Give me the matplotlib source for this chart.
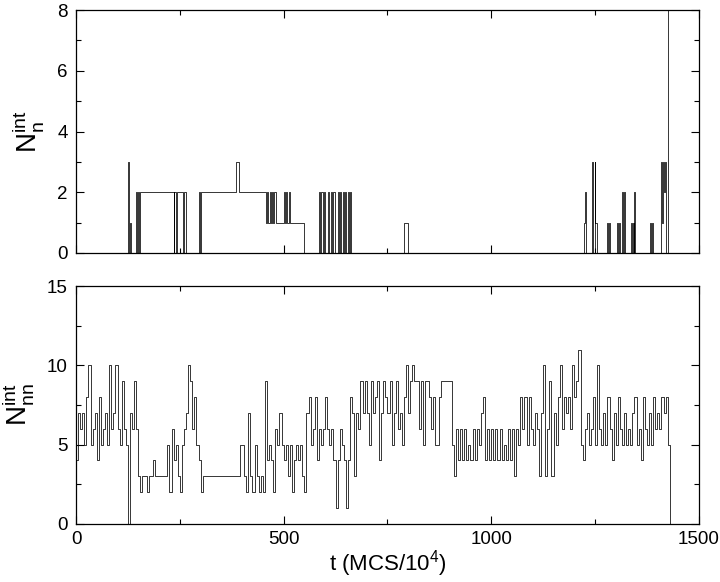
import matplotlib
matplotlib.use("Agg")
import matplotlib.pyplot as plt
from matplotlib.ticker import MultipleLocator, NullFormatter
import numpy as np

plt.rcParams['font.family'] = ['Liberation Sans', 'DejaVu Sans']
plt.rcParams['mathtext.fontset'] = 'custom'
plt.rcParams['mathtext.rm'] = 'Liberation Sans'
plt.rcParams['mathtext.it'] = 'Liberation Sans'

# ---- top series: change points (time, value) ----
top_t = [0, 125, 127, 131, 133, 145, 147, 149, 151, 153,
         235, 237, 241, 243, 258, 260, 265,
         296, 298, 300, 385, 393,
         457, 460, 463, 466, 469, 472, 475, 478, 482,
         500, 503, 506, 509, 512, 515, 550,
         585, 588, 591, 594, 597, 600,
         607, 610, 613, 616, 620, 623,
         630, 633, 636, 639, 642, 645, 648, 651, 654, 657, 660, 663,
         790, 800,
         1224, 1227, 1229,
         1242, 1245, 1249, 1251, 1254,
         1280, 1282, 1284, 1286,
         1303, 1305, 1308, 1310,
         1316, 1318, 1320, 1322,
         1336, 1338, 1341, 1343, 1345, 1347,
         1382, 1384, 1387, 1389,
         1408, 1410, 1412, 1414, 1416, 1418, 1420, 1425]
top_v = [0, 3, 0, 1, 0, 2, 0, 2, 0, 2,
         0, 2, 0, 2, 0, 2, 0,
         2, 0, 2, 3, 2,
         1, 2, 1, 2, 1, 2, 1, 2, 1,
         2, 1, 2, 1, 2, 1, 0,
         2, 0, 2, 0, 2, 0,
         2, 0, 2, 0, 2, 0,
         2, 0, 2, 0, 2, 0, 2, 0, 2, 0, 2, 0,
         1, 0,
         1, 2, 0,
         3, 0, 3, 1, 0,
         1, 0, 1, 0,
         1, 0, 1, 0,
         2, 0, 2, 0,
         1, 0, 1, 0, 2, 0,
         1, 0, 1, 0,
         1, 3, 1, 3, 2, 3, 0, 8]

# ---- bottom series: value every 5 time units from t = 0 ----
bot_dt = 5
bot_v = [
    4, 7, 6, 7, 5, 8, 10, 5, 6, 7, 4, 8, 5, 6, 7, 5, 10, 6, 7, 10,       # 0-95
    6, 5, 9, 6, 5, 0, 7, 6, 9, 6, 3, 2, 3, 3, 2, 3, 3, 4, 3, 3,          # 100-195
    3, 3, 3, 3, 5, 2, 6, 4, 5, 3, 2, 5, 6, 7, 10, 9, 6, 8, 5, 4,         # 200-295
    2, 3, 3, 3, 3, 3, 3, 3, 3, 3, 3, 3, 3, 3, 3, 3, 3, 3, 3, 5,          # 300-395
    5, 3, 2, 7, 3, 2, 5, 3, 2, 3, 2, 9, 4, 5, 4, 2, 6, 5, 7, 5,          # 400-495
    4, 5, 3, 5, 2, 4, 5, 4, 5, 3, 2, 7, 8, 5, 6, 8, 4, 6, 5, 6,          # 500-595
    8, 6, 5, 6, 4, 1, 4, 6, 5, 4, 1, 4, 8, 7, 3, 7, 6, 9, 7, 9,          # 600-695
    7, 5, 9, 7, 8, 9, 4, 7, 9, 8, 7, 9, 5, 7, 9, 6, 7, 5, 8, 10,         # 700-795
    7, 9, 10, 9, 9, 6, 9, 5, 9, 9, 8, 6, 8, 5, 5, 8, 9, 9, 9, 9,         # 800-895
    9, 5, 3, 6, 4, 6, 4, 6, 4, 5, 4, 6, 4, 6, 5, 7, 8, 4, 6, 4,          # 900-995
    6, 4, 6, 4, 6, 4, 5, 4, 6, 4, 6, 3, 6, 5, 8, 6, 8, 5, 8, 6,          # 1000-1095
    5, 7, 6, 3, 7, 10, 3, 6, 9, 3, 7, 5, 8, 10, 6, 8, 7, 8, 6, 10,       # 1100-1195
    8, 9, 11, 5, 4, 6, 7, 5, 6, 8, 5, 10, 6, 5, 7, 5, 8, 6, 4, 7,        # 1200-1295
    5, 8, 6, 5, 7, 5, 6, 5, 7, 8, 5, 6, 4, 8, 6, 5, 7, 5, 8, 6,          # 1300-1395
    7, 6, 8, 7, 8, 5, 0]                                                # 1400-1430
bot_t = np.arange(len(bot_v)) * bot_dt

xticks = [0, 500, 1000, 1500]

fig = plt.figure(figsize=(7.2, 5.82), dpi=100)
ax1 = fig.add_axes([0.1056, 0.5653, 0.865, 0.4175])
ax2 = fig.add_axes([0.1056, 0.1000, 0.865, 0.4080])

ax1.step(top_t, top_v, where='post', color='black', lw=0.55)
ax2.step(bot_t, bot_v, where='post', color='black', lw=0.55)

ax1.set_xlim(0, 1500)
ax1.set_ylim(0, 8)
ax1.yaxis.set_major_locator(MultipleLocator(2))
ax1.yaxis.set_minor_locator(MultipleLocator(1))
ax1.xaxis.set_major_locator(MultipleLocator(500))
ax1.xaxis.set_minor_locator(MultipleLocator(250))
ax1.xaxis.set_major_formatter(NullFormatter())

ax2.set_xlim(0, 1500)
ax2.set_ylim(0, 15)
ax2.set_xticks(xticks)
ax2.yaxis.set_major_locator(MultipleLocator(5))
ax2.yaxis.set_minor_locator(MultipleLocator(2.5))
ax2.xaxis.set_minor_locator(MultipleLocator(250))

for ax in (ax1, ax2):
    ax.tick_params(which='both', direction='in', top=True, right=True,
                   labelsize=13.5, width=0.8)
    ax.tick_params(which='major', length=6, pad=6)
    ax.tick_params(which='minor', length=3.5)
    for s in ax.spines.values():
        s.set_linewidth(0.9)
ax2.tick_params(axis='x', which='major', pad=5)

ax1.set_ylabel(r'$\mathrm{N}_{\mathrm{n}}^{\mathrm{int}}$', fontsize=20, labelpad=8)
ax2.set_ylabel(r'$\mathrm{N}_{\mathrm{nn}}^{\mathrm{int}}$', fontsize=20, labelpad=8)
ax2.set_xlabel(r't (MCS/10$^{4}$)', fontsize=16, labelpad=0)

fig.savefig('out.png', dpi=100)
